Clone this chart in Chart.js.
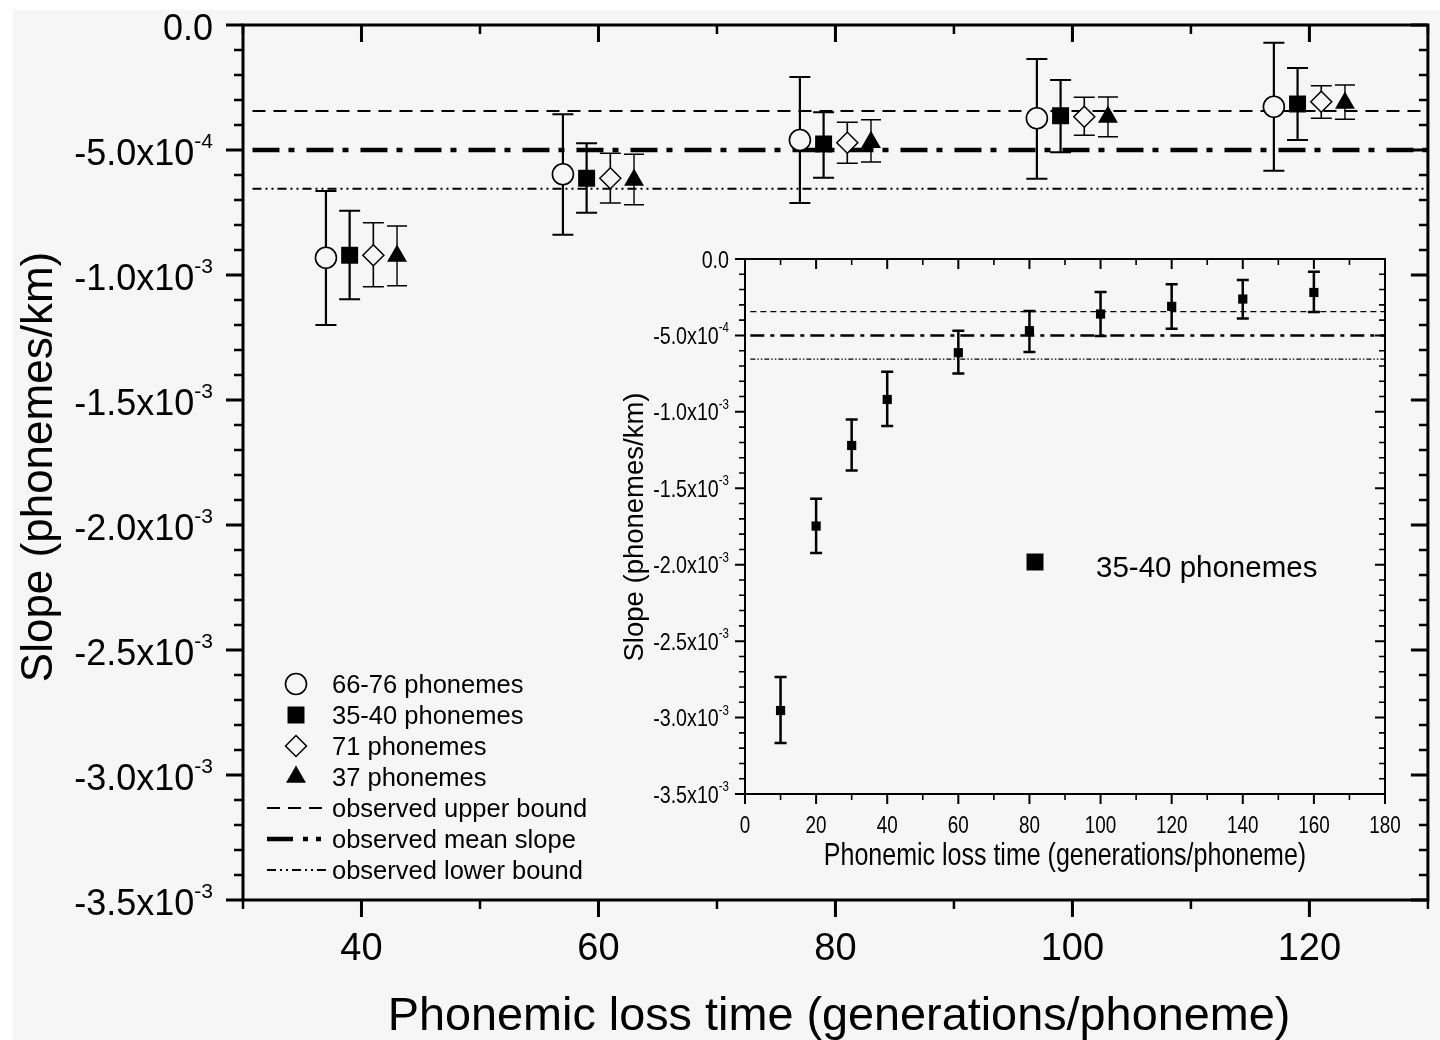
<!DOCTYPE html>
<html>
<head>
<meta charset="utf-8">
<title>Slope vs phonemic loss time</title>
<script src="https://cdn.jsdelivr.net/npm/chart.js@4.4.0/dist/chart.umd.min.js"></script>
<style>
  html, body { margin: 0; padding: 0; background: #fff; }
  #wrap { position: relative; width: 1440px; height: 1040px; overflow: hidden; }
  #bg { position: absolute; left: 13px; top: 10px; width: 1427px; height: 1030px; background: #f6f6f6; }
  #mainChart { position: absolute; left: 0; top: 0; }
  #insetChart { position: absolute; left: 610px; top: 245px; }
</style>
</head>
<body>
<div id="wrap">
  <div id="bg"></div>
  <canvas id="mainChart" width="1440" height="1040"></canvas>
  <canvas id="insetChart" width="800" height="640"></canvas>
</div>
<script>
///////////////////////////////////////// main chart data (slope in phonemes/km)
var xCircle = [37, 57, 77, 97, 117];
var yCircle = [-0.931e-3, -0.597e-3, -0.460e-3, -0.373e-3, -0.327e-3];
var loCircle = [-1.200e-3, -0.839e-3, -0.712e-3, -0.615e-3, -0.583e-3];
var hiCircle = [-0.664e-3, -0.357e-3, -0.208e-3, -0.136e-3, -0.071e-3];

var xSquare = [39, 59, 79, 99, 119];
var ySquare = [-0.921e-3, -0.613e-3, -0.476e-3, -0.363e-3, -0.316e-3];
var loSquare = [-1.097e-3, -0.751e-3, -0.611e-3, -0.509e-3, -0.460e-3];
var hiSquare = [-0.743e-3, -0.473e-3, -0.349e-3, -0.220e-3, -0.172e-3];

var xDiamond = [41, 61, 81, 101, 121];
var yDiamond = [-0.921e-3, -0.613e-3, -0.471e-3, -0.367e-3, -0.307e-3];
var loDiamond = [-1.047e-3, -0.712e-3, -0.553e-3, -0.441e-3, -0.373e-3];
var hiDiamond = [-0.791e-3, -0.513e-3, -0.389e-3, -0.289e-3, -0.243e-3];

var xTriangle = [43, 63, 83, 103, 123];
var yTriangle = [-0.924e-3, -0.620e-3, -0.469e-3, -0.368e-3, -0.312e-3];
var loTriangle = [-1.043e-3, -0.719e-3, -0.548e-3, -0.447e-3, -0.377e-3];
var hiTriangle = [-0.804e-3, -0.517e-3, -0.379e-3, -0.288e-3, -0.240e-3];

// observed bounds (horizontal lines)
var upperBound = -0.344e-3;
var meanSlope = -0.500e-3;
var lowerBound = -0.655e-3;
var mainLineX = [30.8, 130];

var seriesLabels = ["66-76 phonemes", "35-40 phonemes", "71 phonemes", "37 phonemes",
  "observed upper bound", "observed mean slope", "observed lower bound"];

///////////////////////////////////////// inset data (35-40 phonemes)
var xInset = [10, 20, 30, 40, 60, 80, 100, 120, 140, 160];
var yInset = [-2.954e-3, -1.747e-3, -1.220e-3, -0.919e-3, -0.613e-3, -0.469e-3, -0.360e-3, -0.310e-3, -0.262e-3, -0.219e-3];
var loInset = [-3.167e-3, -1.924e-3, -1.384e-3, -1.093e-3, -0.749e-3, -0.609e-3, -0.504e-3, -0.456e-3, -0.389e-3, -0.347e-3];
var hiInset = [-2.734e-3, -1.569e-3, -1.050e-3, -0.738e-3, -0.469e-3, -0.340e-3, -0.216e-3, -0.166e-3, -0.137e-3, -0.083e-3];
var insetLineX = [1.5, 180];

///////////////////////////////////////// tick labels
var mainXTicks = [40, 60, 80, 100, 120];
var insetXTicks = [0, 20, 40, 60, 80, 100, 120, 140, 160, 180];
var yTickValues = [0, -5e-4, -1e-3, -1.5e-3, -2e-3, -2.5e-3, -3e-3, -3.5e-3];
var yTickMant = ["0.0", "-5.0x10", "-1.0x10", "-1.5x10", "-2.0x10", "-2.5x10", "-3.0x10", "-3.5x10"];
var yTickExp = ["", "-4", "-3", "-3", "-3", "-3", "-3", "-3"];

var FONT = '"Liberation Sans", Arial, sans-serif';
var BG = "#f6f6f6";

function pts(xs, ys) {
  return xs.map(function (x, i) { return { x: x, y: ys[i] }; });
}

function hLine(label, y, xr, width, dash) {
  return {
    type: "line", label: label, data: pts(xr, [y, y]),
    borderColor: "#000", borderWidth: width, borderDash: dash,
    pointRadius: 0, showLine: true, fill: false, order: 10
  };
}

///////////////////////////////////////// error bars, drawn under each marker set
var errorBarPlugin = {
  id: "errorBars",
  beforeDatasetDraw: function (chart, args) {
    var ds = chart.data.datasets[args.index];
    if (!ds.errLow) return;
    var ctx = chart.ctx, xs = chart.scales.x, ys = chart.scales.y;
    ctx.save();
    ctx.strokeStyle = "#000";
    ctx.lineWidth = ds.errWidth;
    ctx.setLineDash([]);
    ds.data.forEach(function (p, i) {
      var px = xs.getPixelForValue(p.x);
      var top = ys.getPixelForValue(ds.errHigh[i]);
      var bot = ys.getPixelForValue(ds.errLow[i]);
      ctx.beginPath();
      ctx.moveTo(px, top); ctx.lineTo(px, bot);
      ctx.moveTo(px - ds.capHalf, top); ctx.lineTo(px + ds.capHalf, top);
      ctx.moveTo(px - ds.capHalf, bot); ctx.lineTo(px + ds.capHalf, bot);
      ctx.stroke();
    });
    ctx.restore();
  }
};

function drawText(ctx, text, x, y, size, sx, align, rot) {
  ctx.save();
  ctx.translate(x, y);
  if (rot) ctx.rotate(rot);
  ctx.scale(sx, 1);
  ctx.font = size + "px " + FONT;
  ctx.textAlign = align;
  ctx.textBaseline = "alphabetic";
  ctx.fillText(text, 0, 0);
  ctx.restore();
}

function drawSciLabel(ctx, mant, exp, right, y, f) {
  ctx.save();
  ctx.translate(right, y);
  ctx.scale(f.sx, 1);
  ctx.textAlign = "right";
  ctx.textBaseline = "alphabetic";
  var supW = 0;
  if (exp) {
    ctx.font = f.supSize + "px " + FONT;
    supW = ctx.measureText(exp).width;
    ctx.fillText(exp, 0, f.supBase);
  }
  ctx.font = f.size + "px " + FONT;
  ctx.fillText(mant, -supW, f.base);
  ctx.restore();
}

///////////////////////////////////////// box frame, ticks (outer bottom/left, inner top/right), labels, titles
function framePlugin(o) {
  return {
    id: "frame",
    afterDraw: function (chart) {
      var ctx = chart.ctx, a = chart.chartArea;
      var xs = chart.scales.x, ys = chart.scales.y;
      ctx.save();
      ctx.strokeStyle = "#000";
      ctx.fillStyle = "#000";
      ctx.setLineDash([]);
      for (var v = xs.min; v <= xs.max; v += o.xMinor) {
        var major = v % o.xMajor === 0;
        var len = major ? o.majorLen : o.minorLen;
        var px = xs.getPixelForValue(v);
        ctx.lineWidth = major ? o.majorW : o.minorW;
        ctx.beginPath();
        ctx.moveTo(px, a.bottom); ctx.lineTo(px, a.bottom + len);
        ctx.moveTo(px, a.top); ctx.lineTo(px, a.top + len);
        ctx.stroke();
      }
      for (var i = 0; i <= 35; i++) {
        var yMajor = i % 5 === 0;
        var ylen = yMajor ? o.majorLen : o.minorLen;
        var py = ys.getPixelForValue(-i * 1e-4);
        ctx.lineWidth = yMajor ? o.majorW : o.minorW;
        ctx.beginPath();
        ctx.moveTo(a.left, py); ctx.lineTo(a.left - ylen, py);
        ctx.moveTo(a.right, py); ctx.lineTo(a.right - ylen, py);
        ctx.stroke();
      }
      ctx.lineWidth = o.frameW;
      ctx.strokeRect(a.left, a.top, a.right - a.left, a.bottom - a.top);

      o.xTicks.forEach(function (t) {
        drawText(ctx, String(t), xs.getPixelForValue(t), o.xLabelBase, o.xLabelSize, o.sx, "center");
      });
      yTickValues.forEach(function (t, k) {
        drawSciLabel(ctx, yTickMant[k], yTickExp[k], a.left - o.yLabelGap, ys.getPixelForValue(t), o.yLab);
      });
      drawText(ctx, o.xTitle.text, o.xTitle.x, o.xTitle.y, o.xTitle.size, o.xTitle.sx, "center");
      drawText(ctx, o.yTitle.text, o.yTitle.x, o.yTitle.y, o.yTitle.size, o.yTitle.sx, "center", -Math.PI / 2);
      ctx.restore();
    }
  };
}

///////////////////////////////////////// legends
var mainLegendPlugin = {
  id: "mainLegend",
  afterDraw: function (chart) {
    var ctx = chart.ctx;
    ctx.save();
    chart.data.datasets.forEach(function (ds) {
      var row = seriesLabels.indexOf(ds.label);
      var y = 684 + row * 31;
      if (ds.type === "line") {
        ctx.strokeStyle = "#000";
        ctx.lineWidth = ds.borderWidth;
        ctx.setLineDash(ds.legendDash || ds.borderDash);
        ctx.beginPath();
        ctx.moveTo(267, y); ctx.lineTo(326, y);
        ctx.stroke();
        ctx.setLineDash([]);
      } else {
        ctx.fillStyle = ds.backgroundColor;
        ctx.strokeStyle = ds.borderColor;
        ctx.lineWidth = ds.borderWidth;
        Chart.helpers.drawPoint(ctx, { pointStyle: ds.pointStyle, radius: ds.pointRadius, rotation: 0, borderWidth: ds.borderWidth }, 296, y);
      }
      ctx.fillStyle = "#000";
      drawText(ctx, ds.label, 332, y + 9, 25.5, 1, "left");
    });
    ctx.restore();
  }
};

var insetLegendPlugin = {
  id: "insetLegend",
  afterDraw: function (chart) {
    var ctx = chart.ctx;
    var ds = chart.data.datasets[0];
    ctx.save();
    ctx.fillStyle = "#000";
    ctx.strokeStyle = "#000";
    Chart.helpers.drawPoint(ctx, { pointStyle: "rect", radius: 12, rotation: 0, borderWidth: 0 }, 425, 317);
    drawText(ctx, ds.label, 486, 332, 29.5, 1, "left");
    ctx.restore();
  }
};

///////////////////////////////////////// main chart
var mainDatasets = [
  {
    label: seriesLabels[0], data: pts(xCircle, yCircle), errLow: loCircle, errHigh: hiCircle,
    pointStyle: "circle", pointRadius: 10.5, backgroundColor: BG, borderColor: "#000", borderWidth: 1.6,
    errWidth: 2.2, capHalf: 10.5, order: 1
  },
  {
    label: seriesLabels[1], data: pts(xSquare, ySquare), errLow: loSquare, errHigh: hiSquare,
    pointStyle: "rect", pointRadius: 12, backgroundColor: "#000", borderColor: "#000", borderWidth: 0,
    errWidth: 2.2, capHalf: 10.5, order: 1
  },
  {
    label: seriesLabels[2], data: pts(xDiamond, yDiamond), errLow: loDiamond, errHigh: hiDiamond,
    pointStyle: "rectRot", pointRadius: 10.5, backgroundColor: BG, borderColor: "#000", borderWidth: 1.5,
    errWidth: 1.6, capHalf: 10.5, order: 1
  },
  {
    label: seriesLabels[3], data: pts(xTriangle, yTriangle), errLow: loTriangle, errHigh: hiTriangle,
    pointStyle: "triangle", pointRadius: 11.5, backgroundColor: "#000", borderColor: "#000", borderWidth: 0,
    errWidth: 1.4, capHalf: 10, order: 1
  },
  hLine(seriesLabels[4], upperBound, mainLineX, 1.8, [13, 8]),
  hLine(seriesLabels[5], meanSlope, mainLineX, 4.5, [27, 9, 6, 12]),
  hLine(seriesLabels[6], lowerBound, mainLineX, 1.8, [9, 4, 2, 4, 2, 4])
];
mainDatasets[5].legendDash = [26, 10, 5, 8, 5, 8];

var mainChart = new Chart(document.getElementById("mainChart"), {
  type: "scatter",
  data: { datasets: mainDatasets },
  options: {
    responsive: false,
    animation: false,
    devicePixelRatio: 1,
    layout: { padding: { left: 243, top: 25, right: 8, bottom: 140 } },
    scales: {
      x: { type: "linear", min: 30, max: 130, display: false },
      y: { type: "linear", min: -3.5e-3, max: 0, display: false }
    },
    plugins: { legend: { display: false }, tooltip: { enabled: false } }
  },
  plugins: [errorBarPlugin, mainLegendPlugin, framePlugin({
    xMinor: 10, xMajor: 20, majorLen: 17, minorLen: 9, majorW: 3, minorW: 2.5, frameW: 3,
    xTicks: mainXTicks, xLabelBase: 960, xLabelSize: 38, sx: 1,
    yLabelGap: 30, yLab: { size: 36, supSize: 21, base: 15, supBase: -2, sx: 1 },
    xTitle: { text: "Phonemic loss time (generations/phoneme)", x: 839, y: 1030, size: 46.8, sx: 1 },
    yTitle: { text: "Slope (phonemes/km)", x: 52, y: 467, size: 44, sx: 1 }
  })]
});

///////////////////////////////////////// inset chart
var insetChart = new Chart(document.getElementById("insetChart"), {
  type: "scatter",
  data: {
    datasets: [
      {
        label: "35-40 phonemes", data: pts(xInset, yInset), errLow: loInset, errHigh: hiInset,
        pointStyle: "rect", pointRadius: 6.5, backgroundColor: "#000", borderColor: "#000", borderWidth: 0,
        errWidth: 2.5, capHalf: 6, order: 1
      },
      hLine("observed upper bound", upperBound, insetLineX, 1.3, [6, 4]),
      hLine("observed mean slope", meanSlope, insetLineX, 2.6, [14, 6, 4, 6]),
      hLine("observed lower bound", lowerBound, insetLineX, 1.3, [5, 2, 1.5, 2, 1.5, 2])
    ]
  },
  options: {
    responsive: false,
    animation: false,
    devicePixelRatio: 1,
    layout: { padding: { left: 135, top: 14, right: 25, bottom: 91 } },
    scales: {
      x: { type: "linear", min: 0, max: 180, display: false },
      y: { type: "linear", min: -3.5e-3, max: 0, display: false }
    },
    plugins: { legend: { display: false }, tooltip: { enabled: false } }
  },
  plugins: [errorBarPlugin, insetLegendPlugin, framePlugin({
    xMinor: 10, xMajor: 20, majorLen: 10, minorLen: 6, majorW: 2, minorW: 1.6, frameW: 2,
    xTicks: insetXTicks, xLabelBase: 588, xLabelSize: 23, sx: 0.82,
    yLabelGap: 16, yLab: { size: 24, supSize: 14, base: 8.5, supBase: -3, sx: 0.82 },
    xTitle: { text: "Phonemic loss time (generations/phoneme)", x: 455, y: 620, size: 30.5, sx: 0.82 },
    yTitle: { text: "Slope (phonemes/km)", x: 33, y: 282, size: 27.5, sx: 1 }
  })]
});
</script>
</body>
</html>
